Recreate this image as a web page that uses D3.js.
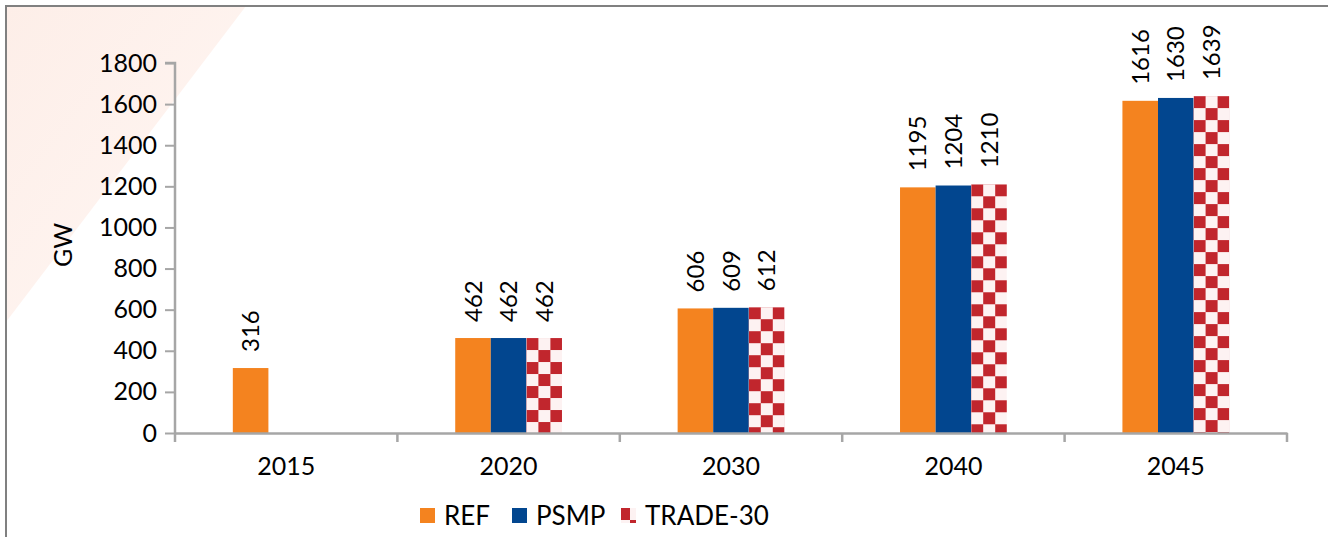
<!DOCTYPE html>
<html>
<head>
<meta charset="utf-8">
<script src="https://cdn.jsdelivr.net/npm/d3@7"></script>
<style>
  body { margin: 0; background: #fff; }
  svg { display: block; font-family: Lato, "Open Sans", sans-serif; }
</style>
</head>
<body>
<svg width="1328" height="537"></svg>
<script>
// chart data
const years = ["2015", "2020", "2030", "2040", "2045"];
const seriesNames = ["REF", "PSMP", "TRADE-30"];
const refValues = [316, 462, 606, 1195, 1616];
const psmpValues = [null, 462, 609, 1204, 1630];
const tradeValues = [null, 462, 612, 1210, 1639];
const yTicks = [0, 200, 400, 600, 800, 1000, 1200, 1400, 1600, 1800];

const colors = { "REF": "#f4831f", "PSMP": "#02468f", "TRADE-30": "#c1262d" };

const svg = d3.select("svg");
const defs = svg.append("defs");

// pale pink corner in the background
const grad = defs.append("linearGradient")
  .attr("id", "corner")
  .attr("x1", 0).attr("y1", 0).attr("x2", 1).attr("y2", 1);
grad.append("stop").attr("offset", "0%").attr("stop-color", "#fdeee8");
grad.append("stop").attr("offset", "100%").attr("stop-color", "#fff7f4");

svg.append("path")
  .attr("d", "M6,6 L246,6 L6,322 Z")
  .attr("fill", "url(#corner)");

// frame
svg.append("path")
  .attr("d", "M6,537 L6,6 L1328,6")
  .attr("fill", "none")
  .attr("stroke", "#808080")
  .attr("stroke-width", 2);

const x0 = 175, x1 = 1287, yTop = 63, yBottom = 433;

const x = d3.scaleBand().domain(years).range([x0, x1]).padding(0);
const barW = x.bandwidth() * 0.16;
const xs = d3.scaleBand()
  .domain(seriesNames)
  .range([x.bandwidth() / 2 - barW * 1.5, x.bandwidth() / 2 + barW * 1.5]);

const y = d3.scaleLinear().domain([0, 1800]).range([yBottom, yTop]);

const rows = [];
years.forEach((yr, i) => {
  rows.push({ year: yr, series: "REF", value: refValues[i] });
  rows.push({ year: yr, series: "PSMP", value: psmpValues[i] });
  rows.push({ year: yr, series: "TRADE-30", value: tradeValues[i] });
});
const bars = rows.filter((d) => d.value != null);

// checker pattern for TRADE-30, one per bar so it starts at the bar corner
function checker(id, px, py) {
  const p = defs.append("pattern")
    .attr("id", id)
    .attr("patternUnits", "userSpaceOnUse")
    .attr("width", 24).attr("height", 24)
    .attr("patternTransform", `translate(${px},${py})`);
  p.append("rect").attr("width", 24).attr("height", 24).attr("fill", "#fdf2f2");
  p.append("rect").attr("x", 0).attr("y", 0).attr("width", 12).attr("height", 12).attr("fill", colors["TRADE-30"]);
  p.append("rect").attr("x", 12).attr("y", 12).attr("width", 12).attr("height", 12).attr("fill", colors["TRADE-30"]);
}

// bars
svg.append("g")
  .selectAll("rect")
  .data(bars)
  .enter()
  .append("rect")
  .attr("x", (d) => x(d.year) + xs(d.series))
  .attr("y", (d) => y(d.value))
  .attr("width", xs.bandwidth())
  .attr("height", (d) => yBottom - y(d.value))
  .attr("fill", (d, i) => {
    if (d.series !== "TRADE-30") return colors[d.series];
    const id = "chk" + i;
    checker(id, x(d.year) + xs(d.series), y(d.value));
    return `url(#${id})`;
  });

// value labels
svg.append("g")
  .selectAll("text")
  .data(bars)
  .enter()
  .append("text")
  .attr("transform", (d) => {
    const cx = x(d.year) + xs(d.series) + xs.bandwidth() / 2;
    return `translate(${cx},${y(d.value) - 16}) rotate(-90)`;
  })
  .attr("dy", "0.36em")
  .attr("font-size", 24)
  .attr("fill", "#000")
  .text((d) => d.value);

// y axis
const yAxis = svg.append("g")
  .attr("transform", `translate(${x0},0)`)
  .call(d3.axisLeft(y).tickValues(yTicks).tickFormat(d3.format("d")).tickSize(10).tickPadding(8));
yAxis.select(".domain").attr("stroke", "#a6a6a6").attr("stroke-width", 2.5).attr("d", `M-10,${yTop}H0V${yBottom}`);
yAxis.selectAll(".tick line").attr("stroke", "#a6a6a6").attr("stroke-width", 2);
yAxis.selectAll(".tick text").attr("font-size", 25).attr("font-family", "Lato, sans-serif").attr("fill", "#000");

// x axis
const xAxis = svg.append("g")
  .attr("transform", `translate(0,${yBottom})`)
  .call(d3.axisBottom(x).tickSize(0).tickPadding(24));
xAxis.select(".domain").attr("stroke", "#a6a6a6").attr("stroke-width", 2.5);
xAxis.selectAll(".tick text").attr("font-size", 25).attr("font-family", "Lato, sans-serif").attr("fill", "#000");

// category boundary ticks
const bounds = years.map((yr) => x(yr)).concat([x1]);
xAxis.append("g")
  .selectAll("line")
  .data(bounds)
  .enter()
  .append("line")
  .attr("x1", (d) => d).attr("x2", (d) => d)
  .attr("y1", 0).attr("y2", 9)
  .attr("stroke", "#a6a6a6")
  .attr("stroke-width", 2.5);

// axis title
svg.append("text")
  .attr("transform", "translate(63,245) rotate(-90)")
  .attr("text-anchor", "middle")
  .attr("dy", "0.36em")
  .attr("font-size", 25)
  .text("GW");

// legend
const legendX = [420, 512, 621];
const legend = svg.append("g").attr("transform", "translate(0,508)");
seriesNames.forEach((s, i) => {
  const g = legend.append("g").attr("transform", `translate(${legendX[i]},0)`);
  if (s === "TRADE-30") {
    checker("chkLegend", legendX[i], 508 - 4);
    g.append("rect").attr("width", 15).attr("height", 15).attr("fill", "url(#chkLegend)");
  } else {
    g.append("rect").attr("width", 15).attr("height", 15).attr("fill", colors[s]);
  }
  g.append("text")
    .attr("x", 24)
    .attr("y", 8)
    .attr("dy", "0.36em")
    .attr("font-size", 26)
    .text(s);
});
</script>
</body>
</html>
